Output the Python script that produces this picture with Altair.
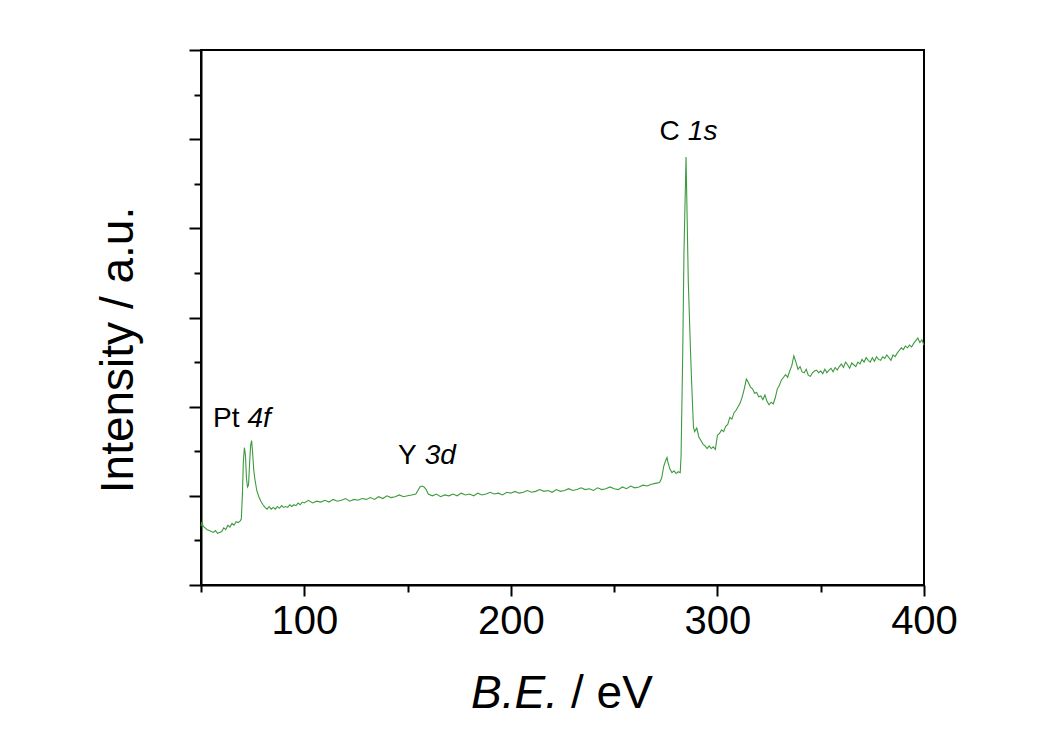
import altair as alt
import pandas as pd

# ---- spectrum: (binding energy / eV, intensity / a.u.)
pt4f_region = [
    (50, 0.66), (50.5, 0.71), (51, 0.66), (52, 0.64), (53, 0.62), (54, 0.61), (55, 0.60),
    (56, 0.59), (57, 0.61), (58, 0.58), (59, 0.59), (60, 0.60), (61, 0.64), (62, 0.62),
    (63, 0.67), (64, 0.65), (65, 0.69), (66, 0.67), (67, 0.71), (68, 0.70), (69, 0.72),
    (69.5, 0.74), (70, 0.98), (70.5, 1.38), (71, 1.54), (71.5, 1.46), (72, 1.20), (72.5, 1.10),
    (73, 1.12), (73.5, 1.35), (74, 1.56), (74.5, 1.62), (75, 1.48), (75.5, 1.30), (76, 1.20),
    (77, 1.06), (78, 0.99), (79, 0.94), (80, 0.90), (81, 0.87), (82, 0.85), (83, 0.88),
    (84, 0.85), (85, 0.87), (86, 0.85), (87, 0.88), (88, 0.86), (89, 0.89), (90, 0.87),
    (91, 0.88), (92, 0.87), (93, 0.90), (94, 0.88), (95, 0.90), (96, 0.89), (97, 0.92),
    (98, 0.90), (99, 0.93), (100, 0.92),
]
baseline_region = [
    (102, 0.95), (104, 0.92), (106, 0.94), (108, 0.93), (110, 0.95), (112, 0.93), (114, 0.96),
    (116, 0.94), (118, 0.95), (120, 0.97), (122, 0.94), (124, 0.96), (126, 0.95), (128, 0.97),
    (130, 0.96), (132, 0.98), (134, 0.96), (136, 0.99), (138, 0.97), (140, 1.00), (142, 0.98),
    (144, 0.99), (146, 1.01), (148, 0.99), (150, 1.00), (152, 1.01), (154, 1.02), (155, 1.06),
    (156, 1.10), (157, 1.11), (158, 1.10), (159, 1.07), (160, 1.02), (162, 1.00), (164, 1.02),
    (166, 0.99), (168, 1.01), (170, 1.00), (172, 1.02), (174, 1.00), (176, 1.03), (178, 1.01),
    (180, 1.02), (182, 1.00), (184, 1.03), (186, 1.01), (188, 1.02), (190, 1.04), (192, 1.02),
    (194, 1.03), (196, 1.01), (198, 1.04), (200, 1.03), (202, 1.05), (204, 1.03), (206, 1.04),
    (208, 1.06), (210, 1.04), (212, 1.05), (214, 1.07), (216, 1.05), (218, 1.06), (220, 1.04),
    (222, 1.07), (224, 1.05), (226, 1.06), (228, 1.08), (230, 1.06), (232, 1.07), (234, 1.09),
    (236, 1.07), (238, 1.08), (240, 1.06), (242, 1.09), (244, 1.07), (246, 1.08), (248, 1.10),
    (250, 1.08), (252, 1.07), (254, 1.10), (256, 1.08), (258, 1.11), (260, 1.09), (262, 1.10),
    (264, 1.12), (266, 1.11), (268, 1.13), (270, 1.14), (272, 1.15),
]
c1s_region = [
    (273, 1.20), (274, 1.33), (275, 1.40), (275.6, 1.43), (276, 1.38), (277, 1.30), (278, 1.26),
    (279, 1.28), (280, 1.25), (281, 1.27), (282, 1.26), (282.4, 1.45), (283.2, 2.60),
    (283.8, 3.72), (284.8, 4.80), (285.9, 3.40), (287, 2.60), (287.6, 2.22), (288.4, 1.77),
    (289, 1.72), (290, 1.76), (291, 1.66), (292, 1.62), (293, 1.58), (294, 1.56), (295, 1.53),
    (296, 1.56), (297, 1.53), (298, 1.55), (299, 1.52), (300, 1.68), (301, 1.70), (302, 1.74),
    (303, 1.72), (304, 1.78), (305, 1.80), (306, 1.88), (307, 1.86), (308, 1.93), (309, 1.96),
    (310, 2.00), (311, 2.04), (312, 2.11), (313, 2.20), (314, 2.31), (315, 2.27), (316, 2.22),
    (317, 2.20), (318, 2.15), (319, 2.16), (320, 2.11), (321, 2.12), (322, 2.08), (323, 2.13),
    (324, 2.06), (325, 2.02), (326, 2.05), (327, 2.03), (328, 2.10), (329, 2.20), (330, 2.24),
    (331, 2.30), (332, 2.33), (333, 2.36), (334, 2.33), (335, 2.40), (336, 2.46), (337, 2.57),
    (338, 2.50), (339, 2.42),
]
tail_region = [
    (340, 2.45), (341, 2.39), (342, 2.38), (343, 2.42), (344, 2.35), (345, 2.34), (346, 2.38),
    (347, 2.40), (348, 2.41), (349, 2.38), (350, 2.40), (351, 2.37), (352, 2.42), (353, 2.38),
    (354, 2.41), (355, 2.43), (356, 2.39), (357, 2.44), (358, 2.41), (359, 2.45), (360, 2.48),
    (361, 2.44), (362, 2.50), (363, 2.47), (364, 2.43), (365, 2.49), (366, 2.47), (367, 2.45),
    (368, 2.50), (369, 2.48), (370, 2.53), (371, 2.50), (372, 2.55), (373, 2.52), (374, 2.50),
    (375, 2.55), (376, 2.51), (377, 2.56), (378, 2.53), (379, 2.52), (380, 2.56), (381, 2.54),
    (382, 2.58), (383, 2.55), (384, 2.52), (385, 2.58), (386, 2.56), (387, 2.60), (388, 2.63),
    (389, 2.66), (390, 2.64), (391, 2.68), (392, 2.66), (393, 2.69), (394, 2.67), (395, 2.71),
    (396, 2.74), (397, 2.77), (398, 2.72), (399, 2.75), (400, 2.69),
]

# ---- axis ticks
x_major = [100, 200, 300, 400]
x_minor = [50, 150, 250, 350]
y_major = [0, 1, 2, 3, 4, 5, 6]
y_minor = [0.5, 1.5, 2.5, 3.5, 4.5, 5.5]

# ---- peak annotations (split point between plain and italic parts, in data units)
peak_plain = ["Pt", "Y", "C"]
peak_italic = ["4f", "3d", "1s"]
peak_x = [68.6, 154.4, 281.8]
peak_y = [1.77, 1.357, 4.99]

FONT = "Liberation Sans"
W, H = 723, 535
GREEN = "#3d9a3d"

points = pt4f_region + baseline_region + c1s_region + tail_region
spec = pd.DataFrame(points, columns=["ev", "inten"])
peaks = pd.DataFrame({"plain": peak_plain, "ital": peak_italic, "x": peak_x, "y": peak_y})

xscale = alt.Scale(domain=[50, 400], nice=False, zero=False)
yscale = alt.Scale(domain=[0, 6], nice=False, zero=False)

common_axis = dict(grid=False, title=None, domainColor="black", domainWidth=2,
                   tickColor="black", tickWidth=2)

line = alt.Chart(spec).mark_line(color=GREEN, strokeWidth=1.1).encode(
    x=alt.X("ev:Q", scale=xscale,
            axis=alt.Axis(values=x_major, tickSize=11, orient="bottom", labelFont=FONT,
                          labelFontSize=40, labelColor="black", labelPadding=5,
                          labelFlush=False, format="d", **common_axis)),
    y=alt.Y("inten:Q", scale=yscale,
            axis=alt.Axis(values=y_major, tickSize=12, orient="left", labels=False,
                          **common_axis)),
)

minor = alt.Chart(spec).mark_line(opacity=0).encode(
    x=alt.X("ev:Q", scale=xscale,
            axis=alt.Axis(values=x_minor, tickSize=7, orient="bottom", labels=False,
                          domain=False, **common_axis)),
    y=alt.Y("inten:Q", scale=yscale,
            axis=alt.Axis(values=y_minor, tickSize=7, orient="left", labels=False,
                          domain=False, **common_axis)),
)

lab_plain = alt.Chart(peaks).mark_text(font=FONT, fontSize=28, align="right",
                                       baseline="alphabetic", color="black").encode(
    x=alt.X("x:Q", scale=xscale, axis=None), y=alt.Y("y:Q", scale=yscale, axis=None),
    text="plain:N")
lab_ital = alt.Chart(peaks).mark_text(font=FONT, fontSize=28, fontStyle="italic", align="left",
                                      baseline="alphabetic", dx=8, color="black").encode(
    x=alt.X("x:Q", scale=xscale, axis=None), y=alt.Y("y:Q", scale=yscale, axis=None),
    text="ital:N")

xt1 = alt.Chart(pd.DataFrame({"t": ["B.E."]})).mark_text(
    font=FONT, fontSize=46, fontStyle="italic", align="right", baseline="alphabetic",
    color="black").encode(x=alt.value(357), y=alt.value(658), text="t:N")
xt2 = alt.Chart(pd.DataFrame({"t": ["/ eV"]})).mark_text(
    font=FONT, fontSize=46, align="left", baseline="alphabetic",
    color="black").encode(x=alt.value(370), y=alt.value(658), text="t:N")
yt = alt.Chart(pd.DataFrame({"t": ["Intensity / a.u."]})).mark_text(
    font=FONT, fontSize=46, align="center", baseline="alphabetic", angle=270,
    color="black").encode(x=alt.value(-68), y=alt.value(300), text="t:N")

chart = alt.layer(line, minor, lab_plain, lab_ital, xt1, xt2, yt).resolve_axis(
    x="independent", y="independent"
).properties(
    width=W, height=H,
    autosize=alt.AutoSizeParams(type="none"),
    padding={"left": 193, "top": 42, "right": 110, "bottom": 140},
    background="white",
).configure_view(stroke="black", strokeWidth=2)

chart.save("out.html", embed_options={"renderer": "svg", "actions": False})
